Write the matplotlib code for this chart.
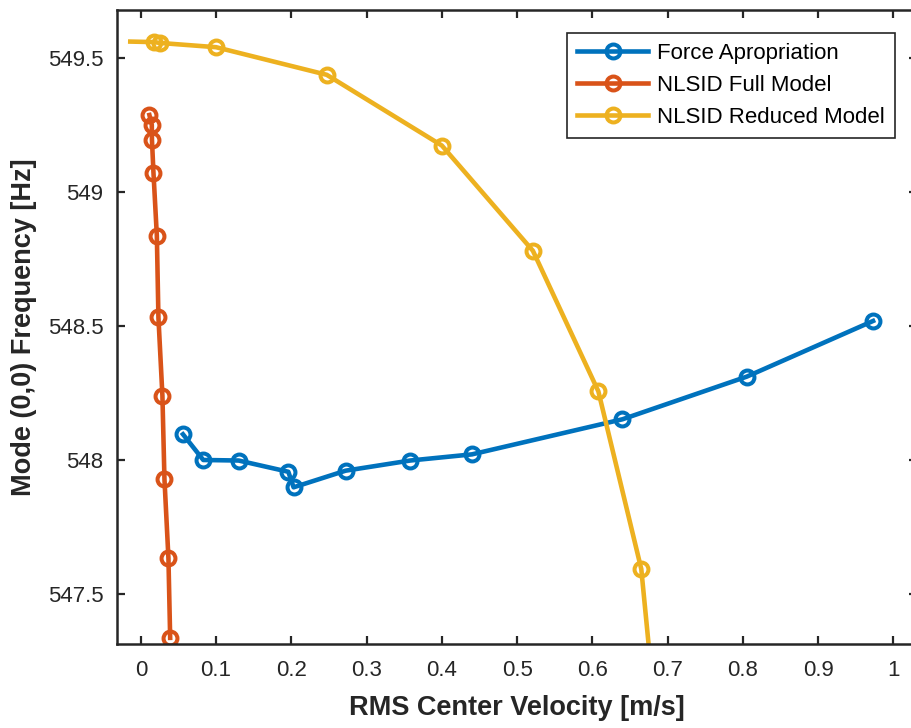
import matplotlib
matplotlib.use("Agg")
import matplotlib.pyplot as plt

plt.rcParams['font.family'] = ['Liberation Sans', 'DejaVu Sans']

# Force appropriation measurements
fa_vel = [0.056, 0.083, 0.130, 0.196, 0.203, 0.272, 0.358, 0.440, 0.640, 0.805, 0.973]
fa_freq = [548.096, 548.000, 547.998, 547.956, 547.898, 547.960, 547.998, 548.021, 548.152, 548.311, 548.519]

# NLSID full model backbone
full_vel = [0.0114, 0.0146, 0.0148, 0.0168, 0.0213, 0.0234, 0.0287, 0.0314, 0.0367, 0.0390]
full_freq = [549.288, 549.251, 549.195, 549.073, 548.837, 548.532, 548.240, 547.929, 547.633, 547.336]

# NLSID reduced model backbone (first point has no marker, last is below the axis)
red_vel = [-0.014, 0.018, 0.025, 0.100, 0.247, 0.400, 0.521, 0.608, 0.665, 0.689]
red_freq = [549.562, 549.560, 549.557, 549.541, 549.438, 549.174, 548.781, 548.256, 547.593, 546.900]

x_ticks = [0, 0.1, 0.2, 0.3, 0.4, 0.5, 0.6, 0.7, 0.8, 0.9, 1]
x_ticklabels = ['0', '0.1', '0.2', '0.3', '0.4', '0.5', '0.6', '0.7', '0.8', '0.9', '1']
y_ticks = [547.5, 548, 548.5, 549, 549.5]
y_ticklabels = ['547.5', '548', '548.5', '549', '549.5']

BLUE = '#0072BD'
ORANGE = '#D95319'
YELLOW = '#EDB120'
AXIS_COLOR = '#262626'

fig = plt.figure(figsize=(9.12, 7.28), dpi=100)
ax = fig.add_axes([0.128, 0.115, 0.878, 0.8713])

style = dict(linewidth=3.3, marker='o', markersize=10, markeredgewidth=2.9,
             markerfacecolor='none')
ax.plot(fa_vel, fa_freq, color=BLUE, label='Force Apropriation', **style)
ax.plot(full_vel, full_freq, color=ORANGE, label='NLSID Full Model', **style)
ax.plot(red_vel, red_freq, color=YELLOW, label='NLSID Reduced Model',
        markevery=list(range(1, len(red_vel))), **style)

ax.set_xlim(-0.032, 1.032)
ax.set_ylim(547.312, 549.680)
ax.set_xticks(x_ticks)
ax.set_xticklabels(x_ticklabels)
ax.set_yticks(y_ticks)
ax.set_yticklabels(y_ticklabels)

ax.tick_params(direction='in', length=6, width=1.6, color=AXIS_COLOR,
               labelcolor=AXIS_COLOR, labelsize=16, top=True, right=True)
ax.tick_params(axis='x', pad=11.5)
ax.tick_params(axis='y', pad=9.5)
for sp in ax.spines.values():
    sp.set_color(AXIS_COLOR)
    sp.set_linewidth(1.8)

ax.set_xlabel('RMS Center Velocity [m/s]', fontsize=19.5, fontweight='bold',
              color=AXIS_COLOR, labelpad=10)
ax.set_ylabel('Mode (0,0) Frequency [Hz]', fontsize=19.5, fontweight='bold',
              color=AXIS_COLOR, labelpad=7.5)

leg = ax.legend(loc='upper right', bbox_to_anchor=(0.972, 0.9633), borderaxespad=0,
                fontsize=16, handlelength=3.2, handletextpad=0.4, labelspacing=0.48,
                borderpad=0.45, fancybox=False, framealpha=1)
leg.get_frame().set_edgecolor(AXIS_COLOR)
leg.get_frame().set_linewidth(1.2)

fig.savefig('out.png', dpi=100, facecolor='white')
